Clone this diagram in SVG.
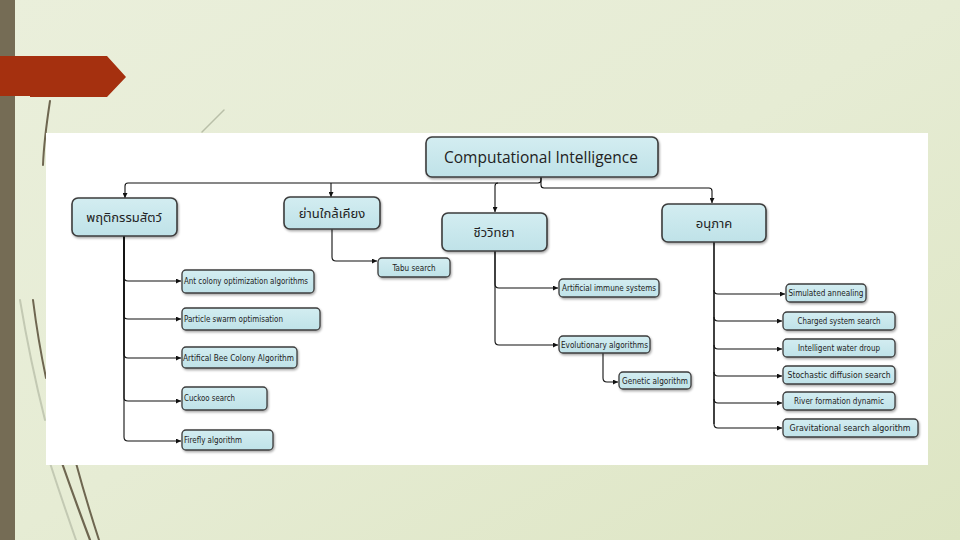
<svg xmlns="http://www.w3.org/2000/svg" width="960" height="540" viewBox="0 0 960 540">
<defs>
<linearGradient id="bg" x1="0" y1="0" x2="1" y2="1">
<stop offset="0" stop-color="#eaefdb"/>
<stop offset="0.5" stop-color="#e6ecd4"/>
<stop offset="1" stop-color="#dde5c3"/>
</linearGradient>
<linearGradient id="nodefill" x1="0" y1="0" x2="0" y2="1">
<stop offset="0" stop-color="#d3edf1"/>
<stop offset="1" stop-color="#bfe2e8"/>
</linearGradient>
<marker id="ah" viewBox="0 0 10 10" refX="10" refY="5" markerWidth="5" markerHeight="5" markerUnits="userSpaceOnUse" orient="auto">
<path d="M0,0 L10,5 L0,10 Z" fill="#111"/>
</marker>
<filter id="sh" x="-10%" y="-20%" width="130%" height="150%">
<feDropShadow dx="1" dy="1.5" stdDeviation="0.8" flood-color="#000" flood-opacity="0.35"/>
</filter>
</defs>
<style>
.big{fill:url(#nodefill);stroke:#3c3c3c;stroke-width:1.6;filter:url(#sh)}
.leaf{fill:url(#nodefill);stroke:#3c3c3c;stroke-width:1.3;filter:url(#sh)}
.th{font-family:"Noto Sans Thai","Noto Sans","DejaVu Sans",sans-serif;font-size:13px;fill:#222;text-anchor:middle}
.lt{font-family:"DejaVu Sans Condensed","Liberation Sans",sans-serif;font-size:8px;fill:#222}
.ltc{font-family:"DejaVu Sans Condensed","Liberation Sans",sans-serif;font-size:8px;fill:#222;text-anchor:middle}
.cn{fill:none;stroke:#111;stroke-width:1.1;marker-end:url(#ah)}
.cnp{fill:none;stroke:#111;stroke-width:1.1}
</style>
<rect x="0" y="0" width="960" height="540" fill="url(#bg)"/>
<rect x="0" y="0" width="15" height="540" fill="#756c55"/>
<path d="M0,56 H107 L126,77 L107,97 H30 V96 H0 Z" fill="#a5300f"/>
<g fill="none" stroke-linecap="round">
<path d="M50,101 Q44,140 43,165" stroke="#6e6650" stroke-width="2"/>
<path d="M224,110 L202,132" stroke="#b9bfa8" stroke-width="1.5"/>
<path d="M33,300 Q38,340 46,378" stroke="#6e6650" stroke-width="2"/>
<path d="M20,300 Q30,360 45,420" stroke="#c3c9b3" stroke-width="2"/>
<path d="M62,463 Q75,500 90,540" stroke="#6e6650" stroke-width="2.2"/>
<path d="M76,463 Q86,500 99,540" stroke="#6e6650" stroke-width="2"/>
<path d="M50,463 Q62,500 76,540" stroke="#c3c9b3" stroke-width="2"/>
</g>
<rect x="46" y="133" width="882" height="332" fill="#ffffff"/>

<g id="connectors">
<path class="cn" d="M541,177 V180 Q541,183 538,183 H128 Q125,183 125,186 V198"/>
<path class="cn" d="M331,183 V197"/>
<path class="cn" d="M498,183 Q495,183 495,186 V212"/>
<path class="cn" d="M541,177 V185 Q541,188 544,188 H709 Q712,188 712,191 V203"/>

<path class="cn" d="M124,236 V277 Q124,281 128,281 H181"/>
<path class="cn" d="M124,236 V316 Q124,319 128,319 H181"/>
<path class="cn" d="M124,236 V354 Q124,358 128,358 H181"/>
<path class="cn" d="M124,236 V398 Q124,401 128,401 H181"/>
<path class="cn" d="M124,236 V437 Q124,441 128,441 H181"/>

<path class="cn" d="M332,229 V257 Q332,261 336,261 H377"/>

<path class="cn" d="M495,251 V284 Q495,288 499,288 H558"/>
<path class="cn" d="M495,251 V341 Q495,345 499,345 H558"/>
<path class="cn" d="M603,353 V378 Q603,382 607,382 H618"/>

<path class="cnp" d="M714,242 V424" style="stroke-width:1.6"/>
<path class="cn" d="M714,290 Q714,294 718,294 H785"/>
<path class="cn" d="M714,317 Q714,321 718,321 H782"/>
<path class="cn" d="M714,345 Q714,349 718,349 H782"/>
<path class="cn" d="M714,372 Q714,376 718,376 H782"/>
<path class="cn" d="M714,399 Q714,403 718,403 H782"/>
<path class="cn" d="M714,424 Q714,428 718,428 H782"/>
</g>

<g id="root">
<rect class="big" x="426" y="137" width="232" height="40" rx="6"/>
<text x="541" y="163" style="font-family:'Open Sans','Liberation Sans',sans-serif;font-size:15.5px;fill:#222;text-anchor:middle">Computational Intelligence</text>
</g>
<g id="animal">
<rect class="big" x="72" y="198" width="105" height="38" rx="6"/>
<text class="th" x="124" y="222">พฤติกรรมสัตว์</text>
</g>
<g id="neighbor">
<rect class="big" x="284" y="197" width="96" height="32" rx="6"/>
<text class="th" x="332" y="218">ย่านใกล้เคียง</text>
</g>
<g id="biology">
<rect class="big" x="442" y="213" width="105" height="38" rx="6"/>
<text class="th" x="494" y="237">ชีววิทยา</text>
</g>
<g id="particle">
<rect class="big" x="662" y="204" width="104" height="38" rx="6"/>
<text class="th" x="714" y="228">อนุภาค</text>
</g>

<g id="ant"><rect class="leaf" x="182" y="270" width="132" height="23" rx="4"/><text class="lt" x="184" y="284" textLength="124" lengthAdjust="spacingAndGlyphs">Ant colony optimization algorithms</text></g>
<g id="pso"><rect class="leaf" x="182" y="308" width="138" height="22" rx="4"/><text class="lt" x="184" y="322" textLength="99" lengthAdjust="spacingAndGlyphs">Particle swarm optimisation</text></g>
<g id="bee"><rect class="leaf" x="182" y="347" width="115" height="21" rx="4"/><text class="lt" x="183" y="361" textLength="111" lengthAdjust="spacingAndGlyphs">Artifical Bee Colony Algorithm</text></g>
<g id="cuckoo"><rect class="leaf" x="182" y="387" width="85" height="23" rx="4"/><text class="lt" x="184" y="401" textLength="51" lengthAdjust="spacingAndGlyphs">Cuckoo search</text></g>
<g id="firefly"><rect class="leaf" x="182" y="430" width="91" height="20" rx="4"/><text class="lt" x="184" y="443" textLength="58" lengthAdjust="spacingAndGlyphs">Firefly algorithm</text></g>

<g id="tabu"><rect class="leaf" x="378" y="258" width="72" height="19" rx="4"/><text class="ltc" x="414" y="271" textLength="43" lengthAdjust="spacingAndGlyphs">Tabu search</text></g>

<g id="ais"><rect class="leaf" x="559" y="279" width="100" height="18" rx="4"/><text class="lt" x="562" y="291" textLength="94" lengthAdjust="spacingAndGlyphs">Artificial immune systems</text></g>
<g id="evo"><rect class="leaf" x="559" y="336" width="91" height="17" rx="4"/><text class="lt" x="561" y="348" textLength="87" lengthAdjust="spacingAndGlyphs">Evolutionary algorithms</text></g>
<g id="ga"><rect class="leaf" x="619" y="372" width="72" height="17" rx="4"/><text class="lt" x="622" y="384" textLength="66" lengthAdjust="spacingAndGlyphs">Genetic algorithm</text></g>

<g id="sa"><rect class="leaf" x="786" y="284" width="80" height="18" rx="4"/><text class="ltc" x="826" y="296" textLength="75" lengthAdjust="spacingAndGlyphs">Simulated annealing</text></g>
<g id="css"><rect class="leaf" x="783" y="312" width="112" height="18" rx="4"/><text class="ltc" x="839" y="324" textLength="83" lengthAdjust="spacingAndGlyphs">Charged system search</text></g>
<g id="iwd"><rect class="leaf" x="783" y="339" width="112" height="18" rx="4"/><text class="ltc" x="839" y="351" textLength="82" lengthAdjust="spacingAndGlyphs">Intelligent water droup</text></g>
<g id="sds"><rect class="leaf" x="783" y="366" width="112" height="18" rx="4"/><text class="ltc" x="839" y="378" textLength="103" lengthAdjust="spacingAndGlyphs">Stochastic diffusion search</text></g>
<g id="rfd"><rect class="leaf" x="783" y="392" width="112" height="18" rx="4"/><text class="ltc" x="839" y="404" textLength="90" lengthAdjust="spacingAndGlyphs">River formation dynamic</text></g>
<g id="gsa"><rect class="leaf" x="783" y="419" width="135" height="18" rx="4"/><text class="ltc" x="850" y="431" textLength="121" lengthAdjust="spacingAndGlyphs">Gravitational search algorithm</text></g>
</svg>
